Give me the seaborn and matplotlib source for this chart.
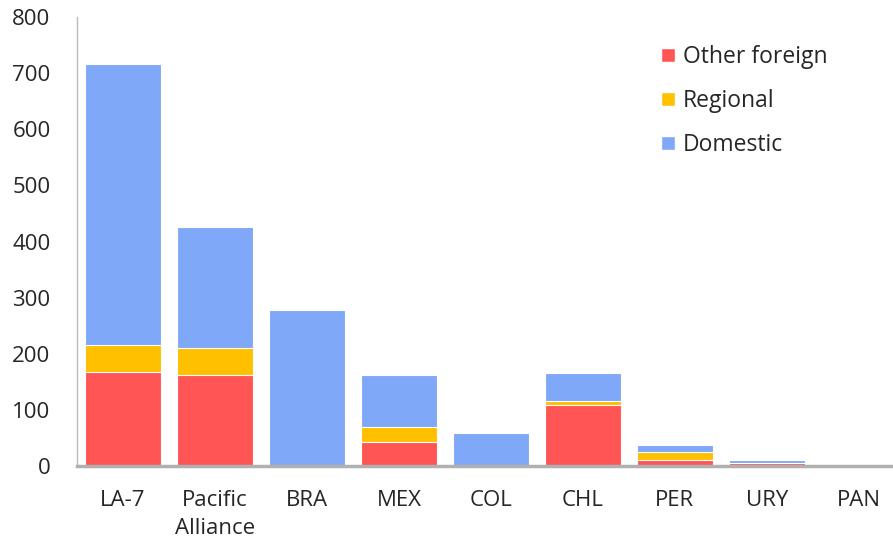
import numpy as np
import pandas as pd
import matplotlib.pyplot as plt
import seaborn as sns
from matplotlib.patches import Patch

# data
countries = ['LA-7', 'Pacific\nAlliance', 'BRA', 'MEX', 'COL', 'CHL', 'PER', 'URY', 'PAN']
other_foreign = [167, 162, 0, 43, 0, 108, 10, 5, 0.5]
regional = [49, 48, 0, 27, 0, 8, 15, 1, 0.3]
domestic = [500, 216, 278, 93, 59, 49, 13, 5, 3]

red = '#FF5555'
yellow = '#FFC000'
blue = '#80A8F8'

df = pd.DataFrame({'country': countries, 'Other foreign': other_foreign,
                   'Regional': regional, 'Domestic': domestic})
df['lvl1'] = df['Other foreign']
df['lvl2'] = df['lvl1'] + df['Regional']
df['lvl3'] = df['lvl2'] + df['Domestic']

sns.set_style('white')
plt.rcParams['font.family'] = ['Open Sans', 'DejaVu Sans']

fig = plt.figure(figsize=(8.93, 5.5), dpi=100)
ax = fig.add_axes([0.0862, 0.1527, 0.927, 0.8164])

# stacked bars: draw cumulative totals from the top down
for col, c in [('lvl3', blue), ('lvl2', yellow), ('lvl1', red)]:
    sns.barplot(data=df, x='country', y=col, color=c, width=0.83,
                edgecolor='white', linewidth=0.8, saturation=1, ax=ax)

ax.set_ylim(0, 800)
ax.set_xlim(-0.5, 8.5)
ax.set_yticks(range(0, 801, 100))
ax.set_xlabel('')
ax.set_ylabel('')
ax.tick_params(axis='y', labelsize=16, direction='in', length=8, color='#BBBBBB', pad=19)
ax.tick_params(axis='x', labelsize=16, length=0, pad=17)
for t in ax.get_xticklabels():
    t.set_linespacing(1.45)

for s in ['top', 'right']:
    ax.spines[s].set_visible(False)
ax.spines['left'].set_color('#BBBBBB')
ax.spines['left'].set_linewidth(1)
ax.spines['bottom'].set_color('#B0B0B0')
ax.spines['bottom'].set_linewidth(2.5)

handles = [Patch(facecolor=red, edgecolor='white', label='Other foreign'),
           Patch(facecolor=yellow, edgecolor='white', label='Regional'),
           Patch(facecolor=blue, edgecolor='white', label='Domestic')]
fig.legend(handles=handles, loc='upper left', bbox_to_anchor=(0.740, 0.918),
           frameon=False, fontsize=16.5, handlelength=0.6, handleheight=0.6,
           handletextpad=0.35, labelspacing=0.87, borderpad=0, borderaxespad=0)

plt.savefig('out.png', dpi=100)
plt.close()
